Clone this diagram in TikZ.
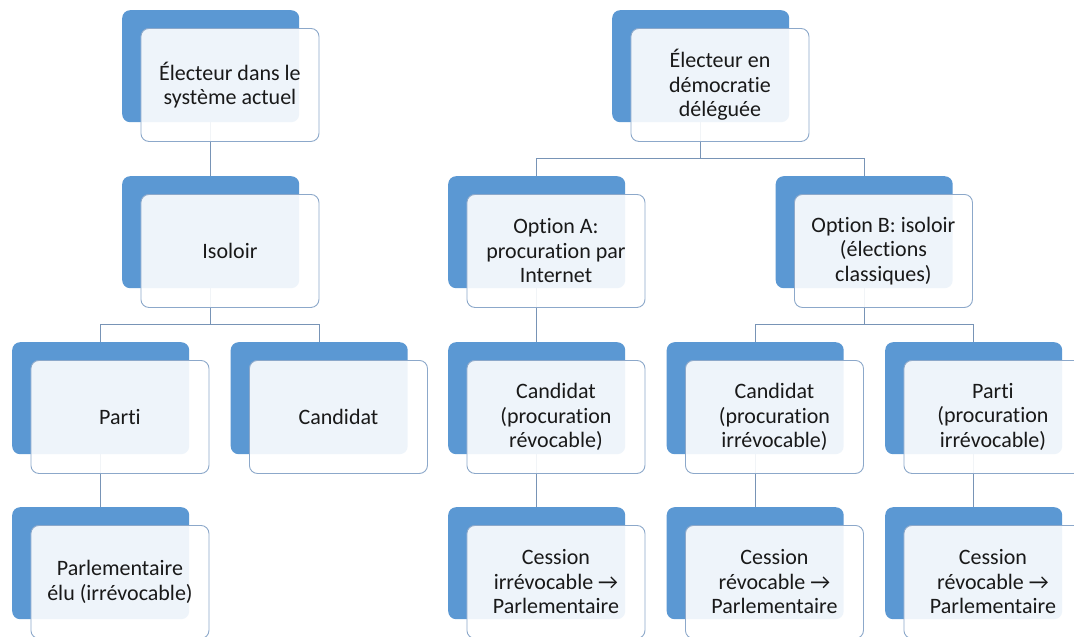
\documentclass[tikz,border=0pt]{standalone}
\usepackage{fontspec}
\setmainfont{Carlito}[Ligatures={NoCommon}]
\usetikzlibrary{backgrounds}
\definecolor{backblue}{RGB}{91,152,211}
\definecolor{frontedge}{RGB}{140,168,202}
\definecolor{linkcol}{RGB}{120,148,182}
\definecolor{txt}{RGB}{25,25,25}
\tikzset{
  backbox/.style={draw=none, fill=backblue, rounded corners=8pt, minimum width=177pt, minimum height=112pt, inner sep=0pt, anchor=north west},
  frontbox/.style={draw=frontedge, line width=0.9pt, fill=white, fill opacity=0.9, text opacity=1, rounded corners=8pt, minimum width=178pt, minimum height=113pt, inner sep=0pt, anchor=north west, align=center, text=txt, font=\fontsize{22pt}{24.5pt}\selectfont},
  link/.style={draw=linkcol, line width=0.9pt}
}
\newcommand{\unitbox}[4]{%
  \node[backbox] (b#1) at (#2,#3) {};
  \node[frontbox] (f#1) at (#2+18.5,#3+18) {#4};
}
\begin{document}
\begin{tikzpicture}[x=1pt,y=-1pt]
\useasboundingbox (0,0) rectangle (1074,637);
% left tree
\unitbox{L1}{122}{10}{Électeur dans le\\système actuel}
\unitbox{L2}{122}{176}{Isoloir}
\unitbox{L3}{12}{342}{Parti}
\unitbox{L4}{230.5}{342}{Candidat}
\unitbox{L5}{12}{507}{Parlementaire\\élu (irrévocable)}
% right tree
\unitbox{R1}{612}{10}{Électeur en\\démocratie\\déléguée}
\unitbox{R2}{448}{176}{Option A:\\procuration par\\Internet}
\unitbox{R3}{775.5}{176}{Option B: isoloir\\(élections\\classiques)}
\unitbox{R4}{448}{342}{Candidat\\(procuration\\révocable)}
\unitbox{R5}{666.5}{342}{Candidat\\(procuration\\irrévocable)}
\unitbox{R6}{885}{342}{Parti\\(procuration\\irrévocable)}
\unitbox{R7}{448}{507}{Cession\\irrévocable →\\Parlementaire}
\unitbox{R8}{666.5}{507}{Cession\\révocable →\\Parlementaire}
\unitbox{R9}{885}{507}{Cession\\révocable →\\Parlementaire}
\begin{scope}[on background layer]
\fill[white] (0,0) rectangle (1074,637);
\draw[link] (bL1.center) -- (bL2.center);
\draw[link] (bL2.center) -- (bL2.center |- 0,324) -| (bL3.center);
\draw[link] (bL2.center |- 0,324) -| (bL4.center);
\draw[link] (bL3.center) -- (bL5.center);
\draw[link] (bR1.center) -- (bR1.center |- 0,158) -| (bR2.center);
\draw[link] (bR1.center |- 0,158) -| (bR3.center);
\draw[link] (bR2.center) -- (bR4.center);
\draw[link] (bR4.center) -- (bR7.center);
\draw[link] (bR3.center) -- (bR3.center |- 0,324) -| (bR5.center);
\draw[link] (bR3.center |- 0,324) -| (bR6.center);
\draw[link] (bR5.center) -- (bR8.center);
\draw[link] (bR6.center) -- (bR9.center);
\end{scope}
\end{tikzpicture}
\end{document}
